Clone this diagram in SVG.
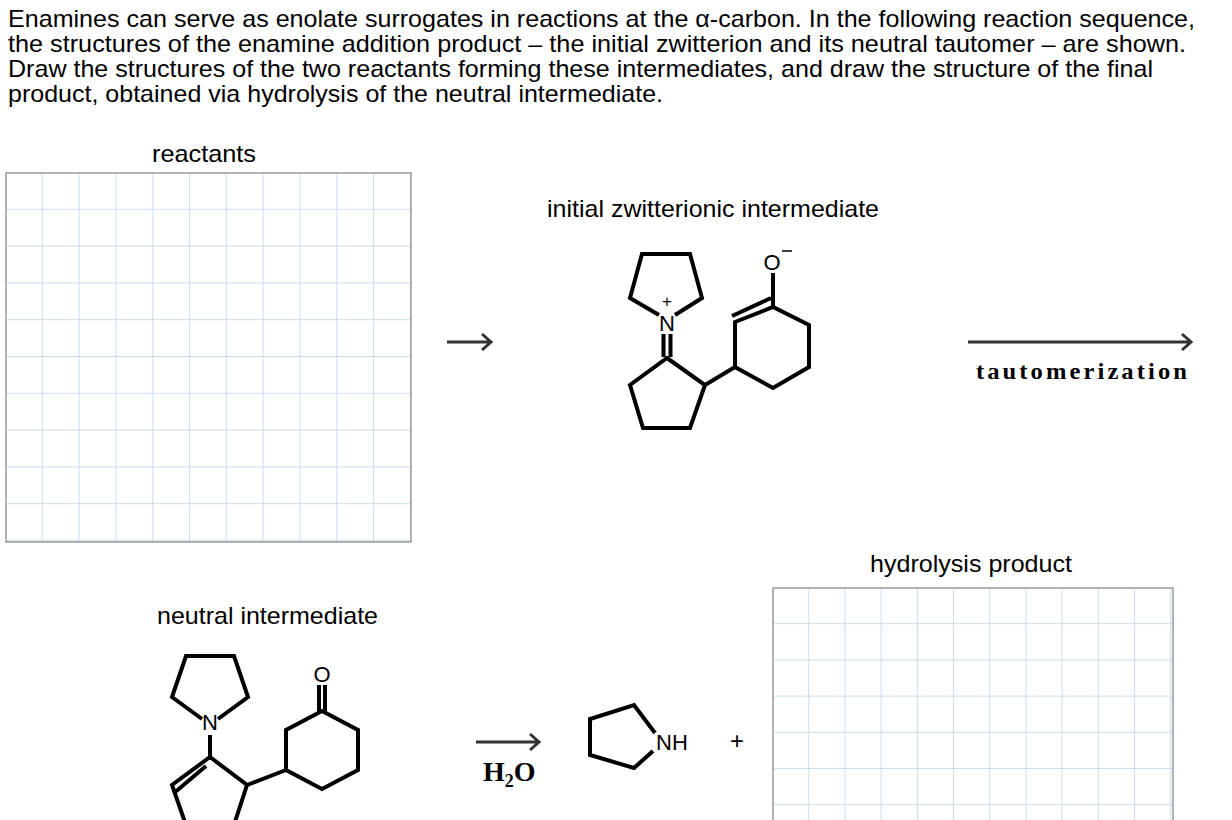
<svg xmlns="http://www.w3.org/2000/svg" width="1232" height="820" viewBox="0 0 1232 820">
<style>
.t{font-family:"Liberation Sans",Arial,sans-serif;font-size:24px;fill:#000}
.l{font-family:"Liberation Sans",Arial,sans-serif;font-size:24px;fill:#000}
.a{font-family:"Liberation Sans",Arial,sans-serif;font-size:22px;fill:#000}
.b{font-family:"Liberation Serif","Times New Roman",serif;font-size:24px;font-weight:bold;fill:#000;letter-spacing:3px}
.bd{fill:none;stroke:#000;stroke-width:4;stroke-linejoin:miter;stroke-linecap:butt}
.ar{fill:none;stroke:#333;stroke-width:3}
</style>
<defs>
<pattern id="grid" width="36.8" height="36.8" patternUnits="userSpaceOnUse" x="6" y="173">
<path d="M36.8 0V36.8M0 36.8H36.8" stroke="#b8d4ef" stroke-width="1.5" fill="none"/>
</pattern>
<pattern id="grid2" width="36.2" height="36.2" patternUnits="userSpaceOnUse" x="773" y="588">
<path d="M36.2 0V36.2M0 36.2H36.2" stroke="#b8d4ef" stroke-width="1.5" fill="none"/>
</pattern>
</defs>
<rect width="1232" height="820" fill="#fff"/>
<text class="t" x="8" y="27" textLength="1187" lengthAdjust="spacingAndGlyphs">Enamines can serve as enolate surrogates in reactions at the α-carbon. In the following reaction sequence,</text>
<text class="t" x="8" y="52" textLength="1178" lengthAdjust="spacingAndGlyphs">the structures of the enamine addition product – the initial zwitterion and its neutral tautomer – are shown.</text>
<text class="t" x="8" y="77" textLength="1145" lengthAdjust="spacingAndGlyphs">Draw the structures of the two reactants forming these intermediates, and draw the structure of the final</text>
<text class="t" x="8" y="102" textLength="655" lengthAdjust="spacingAndGlyphs">product, obtained via hydrolysis of the neutral intermediate.</text>

<g id="reactants">
<text class="l" x="152" y="162" textLength="104" lengthAdjust="spacingAndGlyphs">reactants</text>
<rect x="6" y="173" width="405" height="369" fill="url(#grid)" stroke="#999" stroke-width="1.5"/>
</g>

<g id="zwitterion">
<text class="l" x="547" y="217" textLength="332" lengthAdjust="spacingAndGlyphs">initial zwitterionic intermediate</text>
<path class="bd" d="M659 315L630 298L642 254L690 254L702 298L675 315"/>
<text class="a" x="667" y="331" text-anchor="middle">N</text>
<text class="a" x="667" y="307" text-anchor="middle" style="font-size:17px">+</text>
<path class="bd" d="M663.5 334V357M670.5 334V357"/>
<path class="bd" d="M667 358L705 385L690 428L643 428L630 385Z"/>
<path class="bd" d="M705 385L735 367"/>
<path class="bd" d="M735 367V322L773 307L809 325V367L773 388Z"/>
<path class="bd" d="M732 316L771 298"/>
<path class="bd" d="M773 307V273"/>
<text class="a" x="772" y="270" text-anchor="middle">O</text>
<path d="M782 251H792" stroke="#000" stroke-width="1.5"/>
</g>

<g id="neutral">
<text class="l" x="157" y="624" textLength="221" lengthAdjust="spacingAndGlyphs">neutral intermediate</text>
<path class="bd" d="M202 719L172 697L186 656L234 656L248 697L218 719"/>
<text class="a" x="210" y="730" text-anchor="middle">N</text>
<path class="bd" d="M210 735V757"/>
<path class="bd" d="M210 757L247 785L233 828L187 828L172 785Z"/>
<path class="bd" d="M206 766L174 793"/>
<path class="bd" d="M247 785L286 770"/>
<path class="bd" d="M286 770V730L322 711L358 730V770L322 789Z"/>
<path class="bd" d="M319 685V711M325 685V711"/>
<text class="a" x="322" y="682" text-anchor="middle">O</text>
</g>

<g id="pyrrolidine">
<path class="bd" d="M655 733L634 705L590 719V755L634 768L653 751"/>
<text class="a" x="656" y="750">NH</text>
</g>
<text id="plus" class="l" x="737" y="749" text-anchor="middle">+</text>

<g id="hydrolysis">
<text class="l" x="870" y="572" textLength="202" lengthAdjust="spacingAndGlyphs">hydrolysis product</text>
<rect x="773" y="588" width="400" height="240" fill="url(#grid2)" stroke="#999" stroke-width="1.5"/>
</g>

<g id="connectors">
<path class="ar" d="M447 342H491M482 334L491 342L482 350"/>
<path class="ar" d="M968 342H1191M1182 334L1191 342L1182 350"/>
<text class="b" x="1083" y="379" text-anchor="middle" textLength="214" lengthAdjust="spacingAndGlyphs">tautomerization</text>
<path class="ar" d="M476 742H539M530 734L539 742L530 750"/>
<text class="b" x="483" y="781" style="letter-spacing:0;font-size:28px">H<tspan dy="6" font-size="18">2</tspan><tspan dy="-6">O</tspan></text>
</g>
</svg>
